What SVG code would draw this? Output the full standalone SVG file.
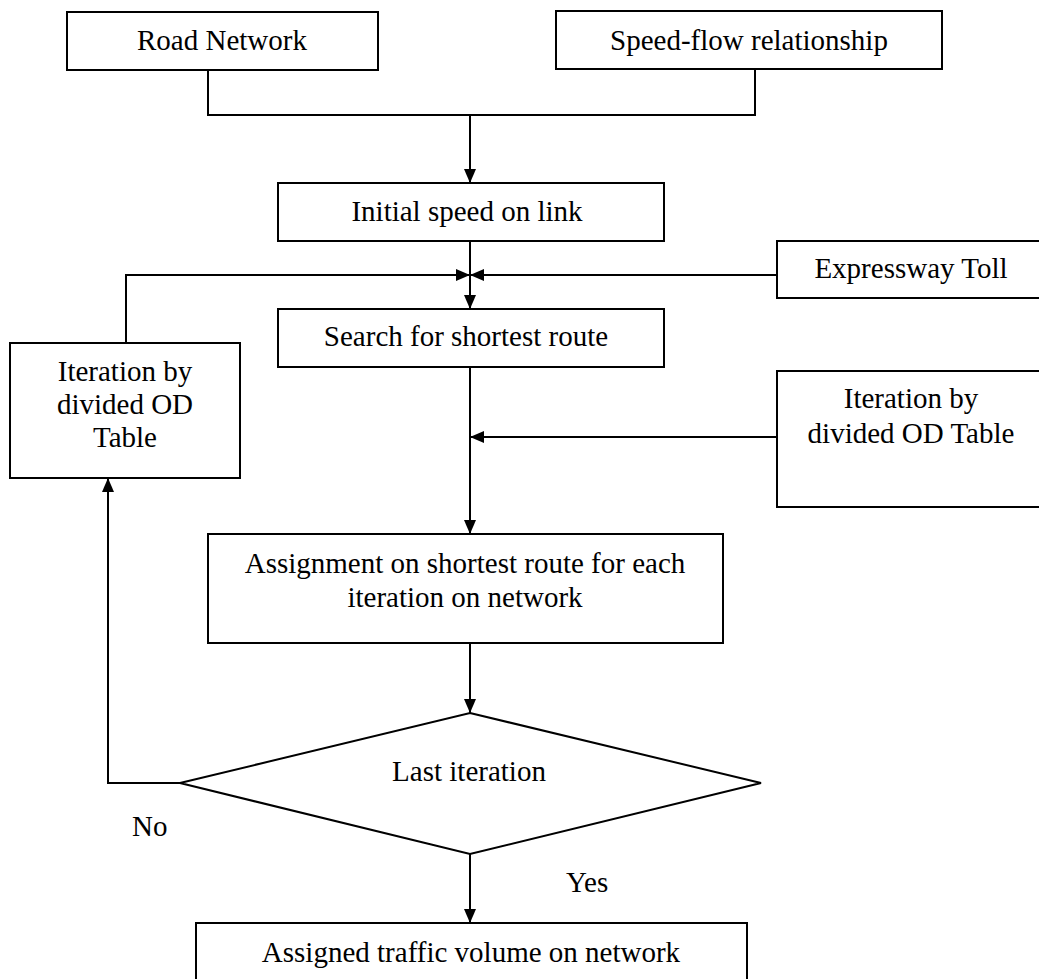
<svg xmlns="http://www.w3.org/2000/svg" width="1039" height="979" viewBox="0 0 1039 979">
<style>
.box{fill:#fff;stroke:#000;stroke-width:2}
.t{font-family:"Liberation Serif","Times New Roman",serif;font-size:29px;fill:#000;text-anchor:middle}
.l{font-family:"Liberation Serif","Times New Roman",serif;font-size:29px;fill:#000}
.c{fill:none;stroke:#000;stroke-width:2}
</style>
<defs>
<marker id="arr" viewBox="0 0 14 12" refX="14" refY="6" markerWidth="14" markerHeight="12" markerUnits="userSpaceOnUse" orient="auto">
<path d="M0,0 L14,6 L0,12 Z" fill="#000"/>
</marker>
</defs>
<rect width="1039" height="979" fill="#fff"/>
<g id="connectors">
<path class="c" d="M208,70 V115 H755 V69"/>
<path class="c" d="M470,115 V183" marker-end="url(#arr)"/>
<path class="c" d="M470,241 V309" marker-end="url(#arr)"/>
<path class="c" d="M126,343 V275 H470" marker-end="url(#arr)"/>
<path class="c" d="M777,275 H470" marker-end="url(#arr)"/>
<path class="c" d="M470,367 V534" marker-end="url(#arr)"/>
<path class="c" d="M777,437 H470" marker-end="url(#arr)"/>
<path class="c" d="M470,643 V713" marker-end="url(#arr)"/>
<path class="c" d="M180,783 H108 V478" marker-end="url(#arr)"/>
<path class="c" d="M470,854 V923" marker-end="url(#arr)"/>
</g>
<g id="road-network">
<rect class="box" x="67" y="12" width="311" height="58"/>
<text class="t" x="222" y="50">Road Network</text>
</g>
<g id="speed-flow">
<rect class="box" x="556" y="11" width="386" height="58"/>
<text class="t" x="749" y="50">Speed-flow relationship</text>
</g>
<g id="initial-speed">
<rect class="box" x="278" y="183" width="386" height="58"/>
<text class="t" x="467" y="221">Initial speed on link</text>
</g>
<g id="expressway-toll">
<rect class="box" x="777" y="241" width="270" height="57"/>
<text class="t" x="911" y="278">Expressway Toll</text>
</g>
<g id="search">
<rect class="box" x="278" y="309" width="386" height="58"/>
<text class="t" x="466" y="346">Search for shortest route</text>
</g>
<g id="iteration-left">
<rect class="box" x="10" y="343" width="230" height="135"/>
<text class="t" x="125"><tspan x="125" y="381">Iteration by</tspan><tspan x="125" y="414">divided OD</tspan><tspan x="125" y="447">Table</tspan></text>
</g>
<g id="iteration-right">
<rect class="box" x="777" y="371" width="270" height="136"/>
<text class="t"><tspan x="911" y="408">Iteration by</tspan><tspan x="911" y="443">divided OD Table</tspan></text>
</g>
<g id="assignment">
<rect class="box" x="208" y="534" width="515" height="109"/>
<text class="t"><tspan x="465" y="573">Assignment on shortest route for each</tspan><tspan x="465" y="607">iteration on network</tspan></text>
</g>
<g id="last-iteration">
<polygon class="box" points="470,713 761,783 470,854 180,783"/>
<text class="t" x="469" y="781">Last iteration</text>
</g>
<g id="assigned-volume">
<rect class="box" x="196" y="923" width="551" height="70"/>
<text class="t" x="471" y="962">Assigned traffic volume on network</text>
</g>
<g id="labels">
<text class="l" x="132" y="836">No</text>
<text class="l" x="566" y="892">Yes</text>
</g>
</svg>
